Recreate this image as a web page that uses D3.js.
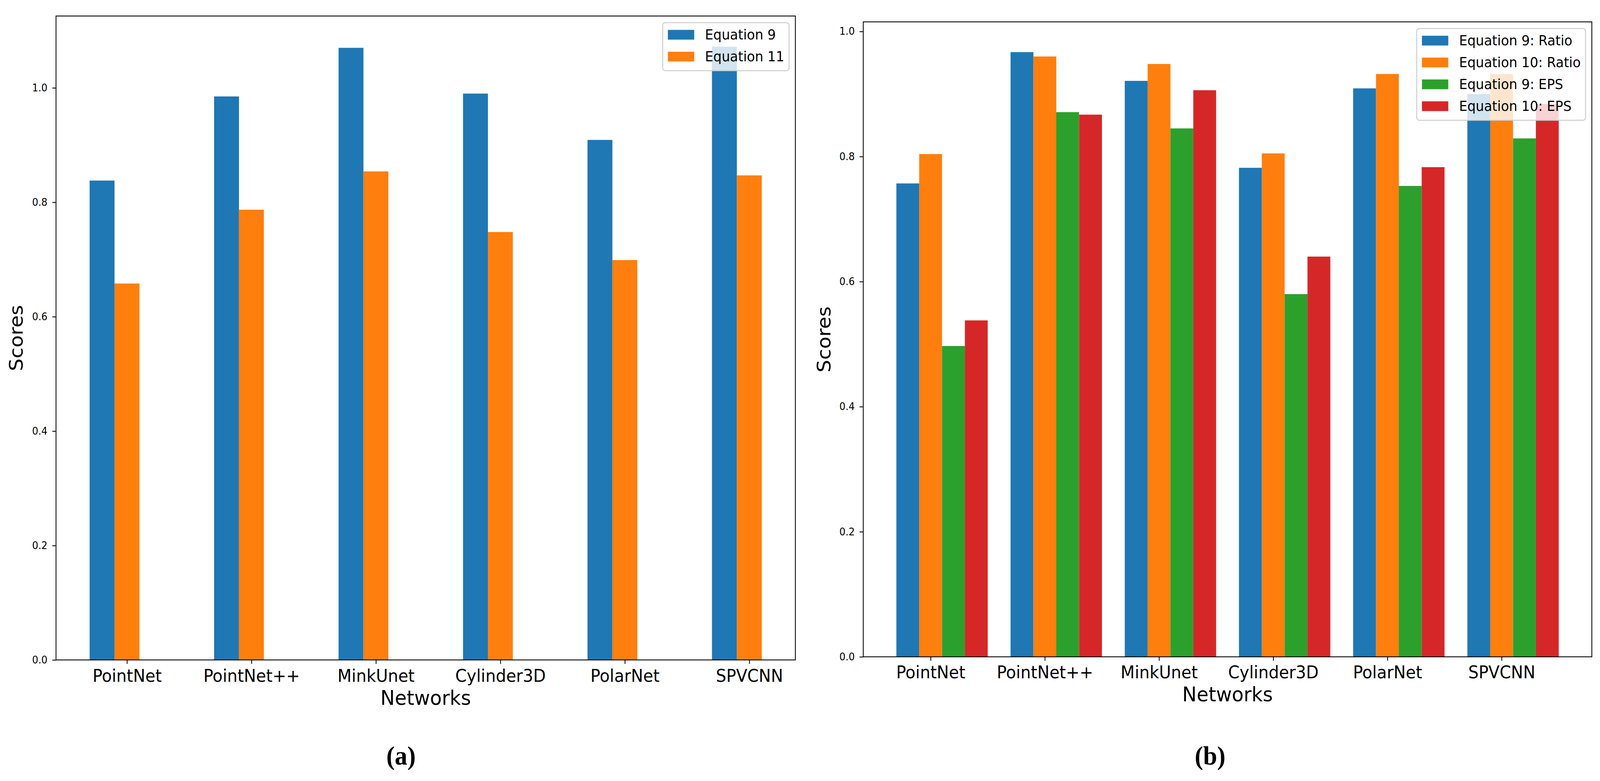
<!DOCTYPE html>
<html>
<head>
<meta charset="utf-8">
<script src="https://cdn.jsdelivr.net/npm/d3@7"></script>
<style>
  html, body { margin: 0; padding: 0; background: #fff; overflow: hidden; }
  svg { display: block; }
  text { font-family: "DejaVu Sans", sans-serif; fill: #000; }
  .caption { font-family: "Liberation Serif", serif; font-weight: bold; }
</style>
</head>
<body>
<div id="chart-area"></div>
<script>
const W = 4313, H = 2000;

// data
const networks = ["PointNet", "PointNet++", "MinkUnet", "Cylinder3D", "PolarNet", "SPVCNN"];
const yTicks = [0, 0.2, 0.4, 0.6, 0.8, 1.0];

// (a)
const eq9 = [0.838, 0.985, 1.070, 0.990, 0.909, 1.072];
const eq11 = [0.658, 0.787, 0.854, 0.748, 0.699, 0.847];
const seriesA = ["Equation 9", "Equation 11"];

// (b)
const eq9Ratio = [0.757, 0.967, 0.921, 0.782, 0.909, 0.900];
const eq10Ratio = [0.804, 0.960, 0.948, 0.805, 0.932, 0.932];
const eq9Eps = [0.497, 0.871, 0.845, 0.580, 0.753, 0.829];
const eq10Eps = [0.538, 0.867, 0.906, 0.640, 0.783, 0.884];
const seriesB = ["Equation 9: Ratio", "Equation 10: Ratio", "Equation 9: EPS", "Equation 10: EPS"];

const colors = ["#1f77b4", "#ff7f0e", "#2ca02c", "#d62728"];

// fit the whole figure into whatever the viewport is
var svg = d3.select("#chart-area").append("svg")
    .attr("viewBox", "0 0 " + W + " " + H)
    .attr("preserveAspectRatio", "none")
    .style("width", "100vw")
    .style("height", "100vh");

function drawPanel(p) {
  const barW = 0.2;
  const offsets = p.values.map((v, k) => (k - 1) * barW);
  // matplotlib style 5% margins
  const lo = offsets[0] - barW / 2;
  const hi = networks.length - 1 + offsets[offsets.length - 1] + barW / 2;
  const mx = (hi - lo) * 0.05;
  const ymax = d3.max(p.values.flat()) * 1.05;

  const x = d3.scaleLinear().domain([lo - mx, hi + mx]).range([p.left, p.right]);
  const y = d3.scaleLinear().domain([0, ymax]).range([p.bottom, p.top]);

  const g = svg.append("g");

  p.values.forEach((vals, k) => {
    g.append("g").selectAll("rect")
      .data(vals)
      .enter()
      .append("rect")
      .attr("x", (d, i) => x(i + offsets[k] - barW / 2))
      .attr("width", (d, i) => x(i + offsets[k] + barW / 2) - x(i + offsets[k] - barW / 2))
      .attr("y", d => y(d))
      .attr("height", d => y(0) - y(d))
      .attr("fill", colors[k]);
  });

  // y axis
  var ya = g.append("g")
    .attr("transform", "translate(" + p.left + ",0)")
    .call(d3.axisLeft(y).tickValues(yTicks).tickFormat(d3.format(".1f"))
      .tickSize(10).tickSizeOuter(0).tickPadding(13));
  ya.select(".domain").remove();
  ya.selectAll("line").attr("stroke", "#000").attr("stroke-width", 2.2);
  ya.selectAll("text").style("font-size", "26px").attr("fill", "#000");

  // x axis
  var xa = g.append("g")
    .attr("transform", "translate(0," + p.bottom + ")")
    .call(d3.axisBottom(x).tickValues(d3.range(networks.length))
      .tickFormat(i => networks[i]).tickSize(10).tickSizeOuter(0));
  xa.select(".domain").remove();
  xa.selectAll("line").attr("stroke", "#000").attr("stroke-width", 2.2);
  xa.selectAll("text").style("font-size", "44px").attr("fill", "#000")
    .attr("y", p.tickBase).attr("dy", null);

  // spines
  g.append("rect")
    .attr("x", p.left).attr("y", p.top)
    .attr("width", p.right - p.left).attr("height", p.bottom - p.top)
    .attr("fill", "none").attr("stroke", "#000").attr("stroke-width", 2.2);

  // axis labels
  g.append("text")
    .attr("x", (p.left + p.right) / 2)
    .attr("y", p.bottom + p.titleBase)
    .attr("text-anchor", "middle")
    .style("font-size", "52px")
    .text("Networks");

  g.append("text")
    .attr("transform", "translate(" + p.yLabelX + "," + (p.top + p.bottom) / 2 + ") rotate(-90)")
    .attr("text-anchor", "middle")
    .style("font-size", "51px")
    .text("Scores");

  // legend, upper right
  const fs = 35.5, rowH = 56;
  var lg = g.append("g");
  var box = lg.append("rect");
  var labels = p.series.map((s, k) => lg.append("text")
    .style("font-size", fs + "px")
    .text(s));
  const maxW = d3.max(labels, t => t.node().getComputedTextLength());
  const boxW = 14 + 71 + 29 + maxW + 13;
  const boxH = 31 + (p.series.length - 1) * rowH + 36;
  const bx = p.right - 17 - boxW, by = p.top + 17;
  box.attr("x", bx).attr("y", by).attr("width", boxW).attr("height", boxH)
    .attr("rx", 7).attr("fill", "#fff").attr("fill-opacity", 0.8)
    .attr("stroke", "#cccccc").attr("stroke-width", 2.5);
  p.series.forEach((s, k) => {
    const cy = by + 31 + k * rowH;
    lg.append("rect")
      .attr("x", bx + 14).attr("y", cy - 12.5)
      .attr("width", 71).attr("height", 25)
      .attr("fill", colors[k]);
    labels[k].attr("x", bx + 14 + 71 + 29).attr("y", cy + 12.5);
  });

  // caption
  svg.append("text")
    .attr("class", "caption")
    .attr("x", p.capX).attr("y", 1958)
    .attr("text-anchor", "middle")
    .style("font-size", "68px")
    .text(p.caption);
}

drawPanel({
  values: [eq9, eq11], series: seriesA,
  left: 151, right: 2144, top: 41, bottom: 1690,
  tickBase: 56, titleBase: 115, yLabelX: 61,
  caption: "(a)", capX: 1081
});

drawPanel({
  values: [eq9Ratio, eq10Ratio, eq9Eps, eq10Eps], series: seriesB,
  left: 2327, right: 4291, top: 56, bottom: 1682,
  tickBase: 55, titleBase: 114, yLabelX: 2239,
  caption: "(b)", capX: 3262
});
</script>
</body>
</html>
